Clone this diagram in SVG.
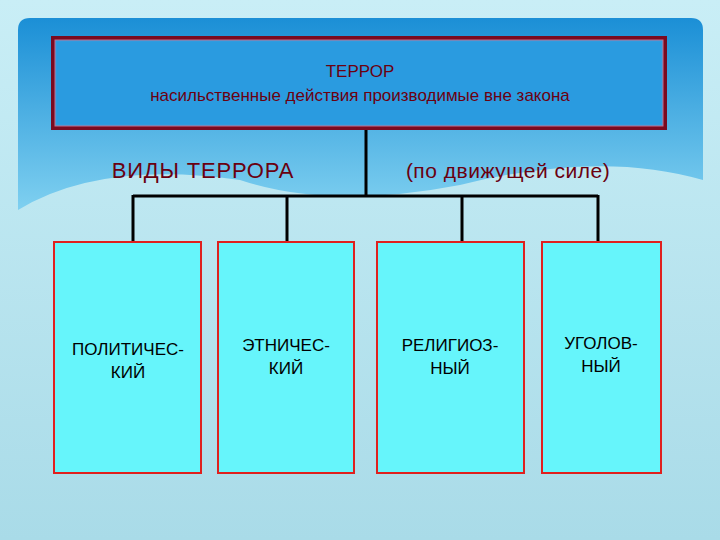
<svg xmlns="http://www.w3.org/2000/svg" width="720" height="540" viewBox="0 0 720 540">
<defs>
<linearGradient id="bg" x1="0" y1="0" x2="0" y2="1"><stop offset="0" stop-color="#c9eef6"/><stop offset="1" stop-color="#a9dbe8"/></linearGradient>
<linearGradient id="pn" x1="0" y1="0" x2="0" y2="1"><stop offset="0" stop-color="#1b8fd6"/><stop offset="1" stop-color="#7fd0f0"/></linearGradient>
<style>
.t{font-family:"Liberation Sans",Arial,sans-serif;fill:#000;text-anchor:middle}
.r{fill:#6a0010}
.b{fill:#66f5fb;stroke:#e0201e;stroke-width:2}
.c{stroke:#000;stroke-width:3;fill:none}
</style>
</defs>
<rect width="720" height="540" fill="url(#bg)"/>
<path d="M18,30 Q18,18 30,18 L691,18 Q703,18 703,30 L703,180 Q600,150 460,185 Q330,210 240,180 Q100,160 18,210 Z" fill="url(#pn)"/>
<g id="top">
<rect x="51" y="36" width="616" height="94" fill="#7a0a20"/>
<rect x="55" y="40" width="608" height="86" fill="#2f9ce0" stroke="#c07090" stroke-width="1"/>
<rect x="57" y="42" width="604" height="82" fill="#2a9be0"/>
<text class="t r" x="360" y="77" font-size="17">ТЕРРОР</text>
<text class="t r" x="360" y="101" font-size="17">насильственные действия производимые вне закона</text>
</g>
<g id="labels">
<text class="t r" x="203" y="178" font-size="22" letter-spacing="0.8">ВИДЫ  ТЕРРОРА</text>
<text class="t r" x="508" y="178" font-size="21" letter-spacing="0.5">(по движущей силе)</text>
</g>
<g id="connectors">
<path class="c" d="M366,130 V196 M133,196 H598 M133,195 V242 M287,195 V242 M462,195 V242 M598,195 V242"/>
</g>
<g id="n1"><rect class="b" x="54" y="242" width="147" height="231"/><text class="t" x="128" y="355" font-size="17">ПОЛИТИЧЕС-</text><text class="t" x="128" y="378" font-size="17">КИЙ</text></g>
<g id="n2"><rect class="b" x="218" y="242" width="136" height="231"/><text class="t" x="286" y="351" font-size="17">ЭТНИЧЕС-</text><text class="t" x="286" y="374" font-size="17">КИЙ</text></g>
<g id="n3"><rect class="b" x="377" y="242" width="147" height="231"/><text class="t" x="450" y="351" font-size="17">РЕЛИГИОЗ-</text><text class="t" x="450" y="374" font-size="17">НЫЙ</text></g>
<g id="n4"><rect class="b" x="542" y="242" width="119" height="231"/><text class="t" x="601" y="349" font-size="17">УГОЛОВ-</text><text class="t" x="601" y="372" font-size="17">НЫЙ</text></g>
</svg>
